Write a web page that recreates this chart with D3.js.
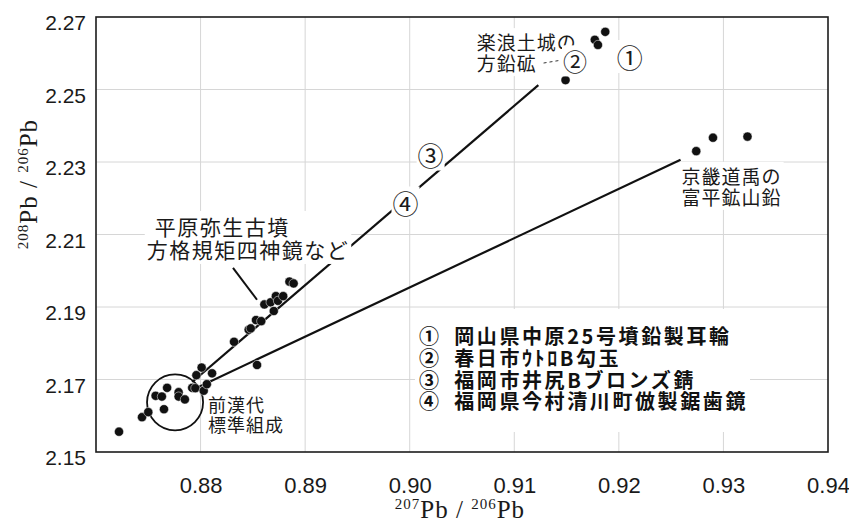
<!DOCTYPE html>
<html><head><meta charset="utf-8">
<script src="https://cdn.jsdelivr.net/npm/d3@7"></script>
<style>
html,body{margin:0;padding:0;background:#fff;}
svg{display:block;}
</style></head>
<body>
<svg id="chart" width="849" height="525"></svg>
<script>
// ---- data ----
const xTicks = [0.88, 0.89, 0.90, 0.91, 0.92, 0.93, 0.94];
const yTicks = [2.15, 2.17, 2.19, 2.21, 2.23, 2.25, 2.27];
const xTickLabels = ["0.88", "0.89", "0.90", "0.91", "0.92", "0.93", "0.94"];
const yTickLabels = ["2.15", "2.17", "2.19", "2.21", "2.23", "2.25", "2.27"];

// 207Pb/206Pb and 208Pb/206Pb of the samples
const pb207 = [0.8722, 0.8744, 0.8750, 0.8757, 0.8763, 0.8765, 0.8768, 0.8779, 0.8779, 0.8785,
  0.8792, 0.8795, 0.8796, 0.8801, 0.8803, 0.8806, 0.8811, 0.8832, 0.8846, 0.8848,
  0.8853, 0.8858, 0.8854, 0.8861, 0.8867, 0.8872, 0.8874, 0.8870, 0.8879, 0.8885, 0.8889,
  0.9187, 0.9177, 0.9180, 0.9136, 0.9149,
  0.9274, 0.9290, 0.9323];
const pb208 = [2.1556, 2.1596, 2.1610, 2.1655, 2.1653, 2.1618, 2.1677, 2.1665, 2.1653, 2.1645,
  2.1677, 2.1676, 2.1712, 2.1733, 2.1669, 2.1687, 2.1717, 2.1804, 2.1837, 2.1841,
  2.1864, 2.1861, 2.1740, 2.1907, 2.1913, 2.1930, 2.1917, 2.1889, 2.1930, 2.1970, 2.1965,
  2.2659, 2.2637, 2.2623, 2.2554, 2.2526,
  2.2330, 2.2367, 2.2370];

// mixing lines (from the Western-Han standard towards the two sources)
const lineA207 = [0.8792, 0.9123];   // toward Lelang galena
const lineA208 = [2.1693, 2.2512];
const lineB207 = [0.8794, 0.9259];   // toward Bupyeong mine lead
const lineB208 = [2.1674, 2.2306];

// circle marking the Western Han standard composition
const circle207 = 0.87756, circle208 = 2.1637, circleR207 = 0.00268;

// leader lines
const leader207 = [0.8831, 0.8854];
const leader208 = [2.2008, 2.1920];
const dash207 = [0.9128, 0.9145];
const dash208 = [2.2573, 2.2581];

// text annotations (anchored in data units)
const noteTexts = [["楽浪土城の", "方鉛砿"], ["京畿道禹の", "富平鉱山鉛"], ["平原弥生古墳", "方格規矩四神鏡など"], ["前漢代", "標準組成"]];
const note207 = [0.90640, 0.92600, 0.87562, 0.88070];
const note208 = [2.2627, 2.2258, 2.2119, 2.1627];

const markTexts = ["①", "②", "③", "④"];
const mark207 = [0.92105, 0.91580, 0.90200, 0.89960];
const mark208 = [2.2585, 2.2574, 2.2316, 2.2181];

const legendTexts = ["岡山県中原25号墳鉛製耳輪", "春日市ｳﾄﾛB勾玉", "福岡市井尻Bブロンズ錆", "福岡県今村清川町倣製鋸歯鏡"];

// ---- chart ----
const svg = d3.select("#chart");
const W = 849, H = 525;
const m = {l: 96, t: 17, r: 21, b: 73};
const x = d3.scaleLinear().domain([0.87, 0.94]).range([m.l, W - m.r]);
const y = d3.scaleLinear().domain([2.15, 2.27]).range([H - m.b, m.t]);
const CJK = "'Noto Sans CJK JP', 'Noto Sans CJK SC', sans-serif";

svg.append("rect").attr("width", W).attr("height", H).attr("fill", "#fff");

// grid
const grid = svg.append("g");
grid.selectAll(".vg").data(xTicks.slice(0, -1)).join("line")
  .attr("x1", d => x(d)).attr("x2", d => x(d)).attr("y1", y(2.27)).attr("y2", y(2.15))
  .attr("stroke", "#d6d6d6").attr("stroke-width", 1);
grid.selectAll(".hg").data(yTicks.slice(1, -1)).join("line")
  .attr("x1", x(0.87)).attr("x2", x(0.94)).attr("y1", d => y(d)).attr("y2", d => y(d))
  .attr("stroke", "#d6d6d6").attr("stroke-width", 1);

// axes (labels only; frame drawn separately)
const xAxis = d3.axisBottom(x).tickValues(xTicks).tickFormat((d, i) => xTickLabels[i]).tickSize(0).tickPadding(25);
const gx = svg.append("g").attr("transform", `translate(0,${H - m.b})`).call(xAxis);
gx.select(".domain").remove();
gx.selectAll("text").attr("font-family", "'Liberation Sans', Arial, sans-serif").attr("font-size", 22).attr("fill", "#1a1a1a");

const yAxis = d3.axisLeft(y).tickValues(yTicks).tickFormat((d, i) => yTickLabels[i]).tickSize(0).tickPadding(10);
const gy = svg.append("g").attr("transform", `translate(${m.l},0)`).call(yAxis);
gy.select(".domain").remove();
gy.selectAll("text").attr("font-family", "'Liberation Sans', Arial, sans-serif").attr("font-size", 21).attr("fill", "#1a1a1a").attr("dy", "0.6em");

// frame
svg.append("rect").attr("x", x(0.87)).attr("y", y(2.27)).attr("width", x(0.94) - x(0.87)).attr("height", y(2.15) - y(2.27))
  .attr("fill", "none").attr("stroke", "#1c1c1c").attr("stroke-width", 1.6);

// helper: white background behind a text group
function backdrop(g, pad) {
  const b = g.node().getBBox();
  g.insert("rect", ":first-child").attr("x", b.x - pad[0]).attr("y", b.y - pad[1])
    .attr("width", b.width + 2 * pad[0]).attr("height", b.height + 2 * pad[1]).attr("fill", "#fff");
}

// mixing lines
svg.append("line").attr("x1", x(lineA207[0])).attr("y1", y(lineA208[0])).attr("x2", x(lineA207[1])).attr("y2", y(lineA208[1]))
  .attr("stroke", "#111").attr("stroke-width", 2.2);
svg.append("line").attr("x1", x(lineB207[0])).attr("y1", y(lineB208[0])).attr("x2", x(lineB207[1])).attr("y2", y(lineB208[1]))
  .attr("stroke", "#111").attr("stroke-width", 2.2);

// circle
svg.append("circle").attr("cx", x(circle207)).attr("cy", y(circle208)).attr("r", x(circle207 + circleR207) - x(circle207))
  .attr("fill", "none").attr("stroke", "#111").attr("stroke-width", 1.8);

// points
svg.append("g").selectAll("circle").data(pb207.map((v, i) => [v, pb208[i]])).join("circle")
  .attr("cx", d => x(d[0])).attr("cy", d => y(d[1])).attr("r", 4.6)
  .attr("fill", "#111").attr("stroke", "#fff").attr("stroke-width", 0.5);

// leader
svg.append("line").attr("x1", x(leader207[0])).attr("y1", y(leader208[0])).attr("x2", x(leader207[1])).attr("y2", y(leader208[1]))
  .attr("stroke", "#111").attr("stroke-width", 2);

// notes
const noteSizes = [19, 19, 21, 18];
noteTexts.forEach((lines, i) => {
  const g = svg.append("g");
  const fs = noteSizes[i];
  const t = g.append("text").attr("font-family", CJK).attr("font-size", fs).attr("fill", "#1a1a1a")
    .attr("letter-spacing", i === 2 ? 1.5 : 1);
  lines.forEach((s, k) => {
    t.append("tspan").attr("x", x(note207[i]) - (i === 2 && k === 1 ? 8 : 0))
      .attr("y", y(note208[i]) + k * (fs + 2)).attr("dy", "0.35em").text(s);
  });
  if (i !== 3) backdrop(g, [2, 0]);
});

// dashed leader near ②
svg.append("line").attr("x1", x(dash207[0])).attr("y1", y(dash208[0])).attr("x2", x(dash207[1])).attr("y2", y(dash208[1]))
  .attr("stroke", "#333").attr("stroke-width", 1).attr("stroke-dasharray", "3,3");

// circled numbers
markTexts.forEach((s, i) => {
  const g = svg.append("g");
  g.append("text").attr("x", x(mark207[i])).attr("y", y(mark208[i])).attr("dy", "0.36em")
    .attr("text-anchor", "middle").attr("font-family", CJK).attr("font-size", i === 1 ? 24 : 26)
    .attr("fill", "#1a1a1a").text(s);
  backdrop(g, [1, -2]);
});

// legend (one text block, one line per entry)
const lg = svg.append("g");
const lt = lg.append("text").attr("font-family", CJK).attr("fill", "#111").attr("font-size", 20)
  .attr("font-weight", 600).attr("letter-spacing", 2.6);
legendTexts.forEach((s, i) => {
  lt.append("tspan").attr("x", 419).attr("y", 337 + i * 21.7).attr("dy", "0.36em")
    .text(markTexts[i] + "\u2002" + s);
});
{
  const b = lg.node().getBBox();
  lg.insert("rect", ":first-child").attr("x", b.x - 4).attr("y", 309).attr("width", b.width + 6).attr("height", 123).attr("fill", "#fff");
}

// axis titles
const serif = "'Liberation Serif', 'DejaVu Serif', serif";
function isoTitle(t, a, b) {
  t.append("tspan").attr("font-size", 15).attr("dy", -9).text(a);
  t.append("tspan").attr("font-size", 25).attr("dy", 9).text("Pb / ");
  t.append("tspan").attr("font-size", 15).attr("dy", -9).text(b);
  t.append("tspan").attr("font-size", 25).attr("dy", 9).text("Pb");
}
const xt = svg.append("text").attr("x", 460).attr("y", 518).attr("text-anchor", "middle")
  .attr("font-family", serif).attr("fill", "#1a1a1a").attr("letter-spacing", 1);
isoTitle(xt, "207", "206");
const yt = svg.append("text").attr("transform", "translate(37,184) rotate(-90)").attr("text-anchor", "middle")
  .attr("font-family", serif).attr("fill", "#1a1a1a").attr("letter-spacing", 1);
isoTitle(yt, "208", "206");
</script>
</body></html>
